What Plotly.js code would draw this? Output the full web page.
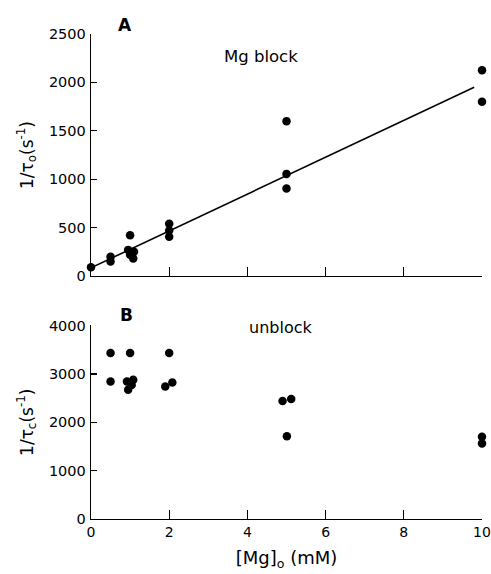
<!DOCTYPE html>
<html><head><meta charset="utf-8">
<script src="https://cdn.plot.ly/plotly-3.0.1.min.js"></script>
<style>html,body{margin:0;padding:0;background:#fff}</style>
</head><body>
<div id="chart" style="width:491px;height:574px"></div>
<script>
// Panel A: Mg block, 1/tau_o (s^-1)
const blockMg = [0, 0.5, 0.5, 1.0, 0.95, 1.0, 1.1, 1.08, 2.0, 2.0, 2.0, 5.0, 5.0, 5.0, 10.0, 10.0];
const blockRate = [90, 200, 150, 420, 270, 220, 250, 180, 540, 470, 405, 1600, 1055, 905, 2125, 1800];
// fitted line in panel A (endpoints as drawn)
const fitMg = [0, 9.8];
const fitRate = [85, 1950];
// Panel B: unblock, 1/tau_c (s^-1)
const unblockMg = [0.5, 0.5, 1.0, 0.92, 0.95, 1.08, 1.04, 2.0, 1.9, 2.08, 4.9, 5.12, 5.01, 10.0, 10.0];
const unblockRate = [3430, 2840, 3430, 2840, 2670, 2880, 2770, 3430, 2740, 2820, 2440, 2480, 1710, 1700, 1560];
const xTicks = [0, 2, 4, 6, 8, 10];
const yTicksA = [0, 500, 1000, 1500, 2000, 2500];
const yTicksB = [0, 1000, 2000, 3000, 4000];

const font = 'DejaVu Sans, Liberation Sans, Arial, sans-serif';
const mk = {color: '#000', size: 8.5};

const data = [
  {x: blockMg, y: blockRate, type: 'scatter', mode: 'markers', marker: mk, xaxis: 'x', yaxis: 'y', cliponaxis: false, hoverinfo: 'none'},
  {x: fitMg, y: fitRate, type: 'scatter', mode: 'lines', line: {color: '#000', width: 1.6}, xaxis: 'x', yaxis: 'y', hoverinfo: 'none'},
  {x: unblockMg, y: unblockRate, type: 'scatter', mode: 'markers', marker: mk, xaxis: 'x2', yaxis: 'y2', cliponaxis: false, hoverinfo: 'none'}
];

const axCommon = {
  showgrid: false, zeroline: false, showline: true, linecolor: '#000', linewidth: 1.3,
  ticks: 'inside', tickcolor: '#000', tickwidth: 1.3,
  tickfont: {family: font, size: 14.5, color: '#000'}
};

const layout = {
  width: 491, height: 574,
  margin: {l: 91, r: 9, t: 34, b: 55},
  paper_bgcolor: '#fff', plot_bgcolor: '#fff',
  showlegend: false,
  font: {family: font, color: '#000'},
  xaxis: Object.assign({}, axCommon, {range: [0, 10], tickvals: xTicks, showticklabels: false, ticklen: 9, anchor: 'y', domain: [0, 1]}),
  yaxis: Object.assign({}, axCommon, {range: [0, 2500], tickvals: yTicksA, ticklen: 6, domain: [0.501, 1], anchor: 'x', ticklabelstandoff: 1,
    title: {text: '1/τ<sub>o</sub>(s<sup>-1</sup>)', font: {family: font, size: 17, color: '#000'}, standoff: 11}}),
  xaxis2: Object.assign({}, axCommon, {range: [0, 10], tickvals: xTicks, ticklen: 9, anchor: 'y2', domain: [0, 1],
    tickfont: {family: font, size: 14, color: '#000'}, ticklabeloverflow: 'allow',
    title: {text: '[Mg]<sub>o</sub> (mM)', font: {family: font, size: 18, color: '#000'}, standoff: 12}}),
  yaxis2: Object.assign({}, axCommon, {range: [0, 4000], tickvals: yTicksB, ticklen: 6, domain: [0, 0.399], anchor: 'x2', ticklabelstandoff: 1,
    title: {text: '1/τ<sub>c</sub>(s<sup>-1</sup>)', font: {family: font, size: 17, color: '#000'}, standoff: 11}}),
  annotations: [
    {text: '<b>A</b>', xref: 'paper', yref: 'paper', x: 0.087, y: 1.0186, xanchor: 'center', yanchor: 'middle', showarrow: false, font: {family: font, size: 17}},
    {text: 'Mg block', xref: 'x', yref: 'y', x: 4.35, y: 2270, xanchor: 'center', yanchor: 'middle', showarrow: false, font: {family: font, size: 16.5}},
    {text: '<b>B</b>', xref: 'paper', yref: 'paper', x: 0.09, y: 0.4206, xanchor: 'center', yanchor: 'middle', showarrow: false, font: {family: font, size: 17}},
    {text: 'unblock', xref: 'x2', yref: 'y2', x: 4.85, y: 3960, xanchor: 'center', yanchor: 'middle', showarrow: false, font: {family: font, size: 16}}
  ]
};

Plotly.newPlot('chart', data, layout, {staticPlot: true, displayModeBar: false});
</script>
</body></html>
